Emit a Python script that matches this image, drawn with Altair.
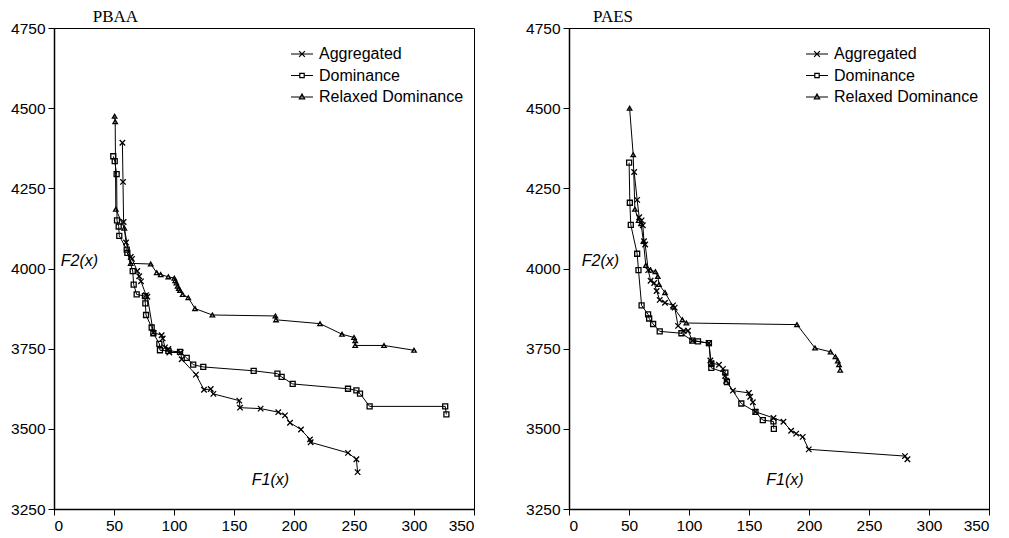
import altair as alt
import pandas as pd

SERIES = ["Aggregated", "Dominance", "Relaxed Dominance"]
X_TICKS = [0, 50, 100, 150, 200, 250, 300, 350]
Y_TICKS = [3250, 3500, 3750, 4000, 4250, 4500, 4750]

# ---------------- PBAA ----------------
pbaa_agg_f1 = [57, 57.5, 58, 60, 63.9, 65, 69.4, 71, 72.5, 76.7, 77.8, 82.8, 89.7, 90.6, 92.5,
               95.3, 96.1, 105.6, 106.4, 118.3, 125, 130.6, 132.8, 154.4, 155, 172.2, 186.9,
               192.5, 196.7, 205.8, 213.3, 213.9, 245, 252, 253]
pbaa_agg_f2 = [4392, 4270, 4145, 4081, 4036, 4030, 3992, 3976, 3960, 3917, 3912, 3800, 3792, 3782, 3754,
               3749, 3738, 3738, 3717, 3669, 3622, 3624, 3609, 3588, 3566, 3563, 3552,
               3542, 3519, 3498, 3467, 3458, 3425, 3405, 3365]

pbaa_dom_f1 = [49.4, 50.6, 52.2, 52.5, 53.9, 54.4, 60.6, 61.1, 65.6, 66.4, 68.9, 75.8, 76.1, 76.7,
               81.4, 82.8, 87.8, 88.3, 95.3, 105, 110.6, 116, 124.4, 166.4, 186.2, 189.7, 198.9,
               245, 252, 255, 263, 326, 327]
pbaa_dom_f2 = [4350, 4335, 4294, 4150, 4131, 4102, 4059, 4049, 3992, 3950, 3919, 3914, 3891, 3855,
               3816, 3798, 3765, 3745, 3743, 3740, 3721, 3700, 3693, 3681, 3672, 3662, 3640,
               3625, 3620, 3610, 3570, 3570, 3545]

pbaa_rel_f1 = [50.5, 51, 51.5, 58.6, 63.9, 80.6, 85.6, 88.9, 95.3, 100.3, 101, 102, 103, 104, 105,
               107.2, 111.9, 117.5, 132, 184.5, 185, 221.7, 240, 250, 251, 251, 275, 300]
pbaa_rel_f2 = [4475, 4458, 4185, 4126, 4016, 4014, 3987, 3981, 3974, 3970, 3962, 3955, 3945, 3938, 3932,
               3919, 3909, 3875, 3855, 3852, 3840, 3828, 3795, 3785, 3775, 3760, 3760, 3745]

# ---------------- PAES ----------------
paes_agg_f1 = [54.3, 56.8, 58.5, 60.5, 61.5, 62.5, 63.5, 66, 68, 71, 73, 75.6, 80, 86.7, 88.1, 90.9,
               95.6, 99.2, 102.8, 116.6, 117.8, 118.5, 125, 128.3, 130, 131, 136.6, 149.9, 151,
               153.2, 155.4, 170.4, 178.7, 185.1, 189.3, 194.8, 199.8, 280, 282]
paes_agg_f2 = [4301, 4214, 4160, 4150, 4135, 4085, 4075, 3995, 3962, 3955, 3930, 3902, 3893, 3885, 3878, 3821,
               3806, 3806, 3775, 3767, 3713, 3705, 3700, 3687, 3665, 3650, 3619, 3612, 3600,
               3583, 3553, 3534, 3522, 3494, 3485, 3475, 3436, 3415, 3405]

paes_dom_f1 = [50.1, 50.7, 51.5, 56.8, 57.9, 60.5, 65.9, 66.8, 70.1, 75.6, 93.7, 102.8, 107.5, 116.6,
               118.6, 118.6, 130.3, 131.6, 143.6, 155.4, 161.5, 170.4, 170.7]
paes_dom_f2 = [4330, 4205, 4136, 4046, 3995, 3885, 3857, 3844, 3827, 3804, 3798, 3775, 3773, 3767,
               3703, 3690, 3675, 3646, 3579, 3553, 3527, 3523, 3500]

paes_rel_f1 = [50.5, 53.5, 54.9, 58, 60, 62, 64, 68, 72, 74, 75, 80, 87, 94.5, 97.8, 190, 205, 218,
               222, 224, 225, 226]
paes_rel_f2 = [4500, 4355, 4185, 4150, 4140, 4085, 4010, 3995, 3990, 3975, 3950, 3925, 3880, 3840, 3830,
               3825, 3752, 3740, 3725, 3712, 3700, 3683]

# annotation texts
panel_titles = ["PBAA", "PAES"]
title_f1 = [32.3, 20]
title_f2 = [4769, 4769]
f2_label_f1 = [5.6, 10.6]
f1_label_f1 = [164.8, 164.4]
f2_label_f2 = 4022
f1_label_f2 = 3341

MARKERS = ["M-1,-1L1,1M-1,1L1,-1", "square", "triangle-up"]
LEG_SYMS = [
    "M-1,0L1,0M-0.26,-0.26L0.26,0.26M-0.26,0.26L0.26,-0.26",
    "M-1,0L-0.2,0M0.2,0L1,0M-0.2,-0.2L0.2,-0.2L0.2,0.2L-0.2,0.2Z",
    "M-1,0L1,0M0,-0.27L0.24,0.17L-0.24,0.17Z",
]


def series_frame(series, f1, f2):
    return pd.DataFrame({"series": series, "idx": list(range(len(f1))), "f1": f1, "f2": f2})


def panel(frames, i):
    df = pd.concat(frames, ignore_index=True)
    x = alt.X("f1:Q", scale=alt.Scale(domain=[0, 350], nice=False, zero=False),
              axis=alt.Axis(values=X_TICKS, title=None, grid=False, format="d"))
    y = alt.Y("f2:Q", scale=alt.Scale(domain=[3250, 4750], nice=False, zero=False),
              axis=alt.Axis(values=Y_TICKS, title=None, grid=False, format="d"))
    base = alt.Chart(df)
    lines = base.mark_line(color="black", strokeWidth=1).encode(
        x=x, y=y, detail="series:N", order="idx:Q")
    pts = base.mark_point(filled=False, color="black", strokeWidth=1.3, opacity=1).encode(
        x=x, y=y,
        shape=alt.Shape("series:N", scale=alt.Scale(domain=SERIES, range=MARKERS), legend=None),
        size=alt.Size("series:N", scale=alt.Scale(domain=SERIES, range=[30, 20, 30]), legend=None),
    )
    leg = base.transform_filter("datum.f1 < -1000").mark_point(
        filled=False, color="black", strokeWidth=1.2, opacity=1).encode(
        x=x, y=y,
        shape=alt.Shape("series:N", scale=alt.Scale(domain=SERIES, range=LEG_SYMS),
                        legend=alt.Legend(title=None, orient="none", legendX=236, legendY=14,
                                          symbolSize=484, labelFontSize=16,
                                          labelFont="Liberation Sans", labelColor="black",
                                          labelOffset=5, padding=0, rowPadding=1.5,
                                          symbolStrokeWidth=1.2, symbolStrokeColor="black",
                                          symbolOpacity=1,
                                          symbolFillColor="transparent", labelLimit=300)),
    )
    ann = pd.DataFrame({
        "label": ["F2(x)", "F1(x)"],
        "f1": [f2_label_f1[i], f1_label_f1[i]],
        "f2": [f2_label_f2, f1_label_f2],
    })
    ital = alt.Chart(ann).mark_text(align="left", baseline="middle", fontStyle="italic",
                                    font="Liberation Sans", fontSize=16, color="black").encode(
        x=alt.X("f1:Q"), y=alt.Y("f2:Q"), text="label:N")
    tdf = pd.DataFrame({"label": [panel_titles[i]], "f1": [title_f1[i]], "f2": [title_f2[i]]})
    ttl = alt.Chart(tdf).mark_text(align="left", baseline="alphabetic", font="Liberation Serif",
                                   fontSize=17, color="black").encode(
        x=alt.X("f1:Q"), y=alt.Y("f2:Q"), text="label:N")
    return alt.layer(lines, pts, leg, ital, ttl).resolve_scale(shape="independent").properties(
        width=420, height=481)


left = panel([series_frame("Aggregated", pbaa_agg_f1, pbaa_agg_f2),
              series_frame("Dominance", pbaa_dom_f1, pbaa_dom_f2),
              series_frame("Relaxed Dominance", pbaa_rel_f1, pbaa_rel_f2)], 0)
right = panel([series_frame("Aggregated", paes_agg_f1, paes_agg_f2),
               series_frame("Dominance", paes_dom_f1, paes_dom_f2),
               series_frame("Relaxed Dominance", paes_rel_f1, paes_rel_f2)], 1)

chart = alt.hconcat(left, right, spacing=95, bounds="flush").properties(
    padding={"left": 10, "top": 7, "right": 5, "bottom": 3},
    background="white",
).configure_view(stroke="black", strokeWidth=1).configure_axis(
    domainColor="black", domainWidth=1.5, tickColor="black", tickSize=6, tickWidth=1,
    labelFontSize=15.5, labelFont="Liberation Sans", labelColor="black", labelPadding=3,
)

chart.save("out.html", embed_options={"renderer": "svg", "actions": False})
